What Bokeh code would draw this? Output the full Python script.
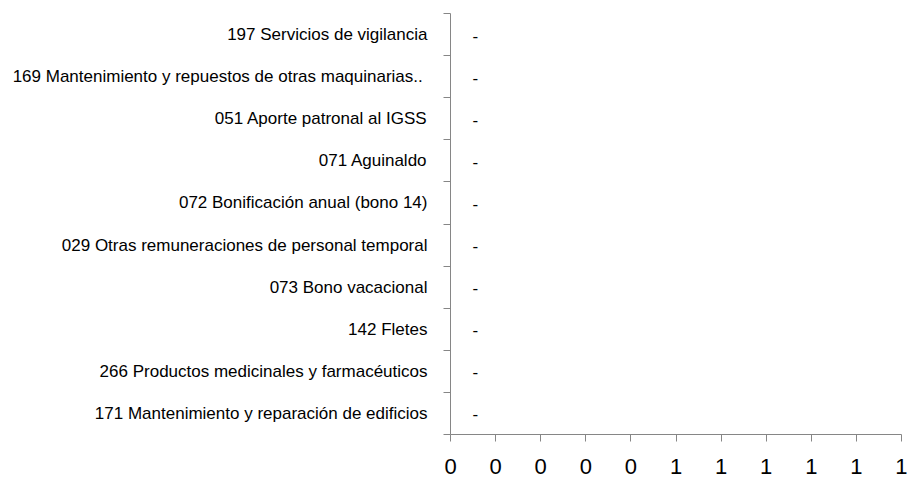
from bokeh.plotting import figure
from bokeh.models import FixedTicker, CustomJSTickFormatter, ColumnDataSource, Range1d
from bokeh.core.properties import value
from bokeh.embed import file_html
from bokeh.resources import INLINE

# Data (bottom to top)
categories = [
    "171 Mantenimiento y reparación de edificios",
    "266 Productos medicinales y farmacéuticos",
    "142 Fletes",
    "073 Bono vacacional",
    "029 Otras remuneraciones de personal temporal",
    "072 Bonificación anual (bono 14)",
    "071 Aguinaldo",
    "051 Aporte patronal al IGSS",
    "169 Mantenimiento y repuestos de  otras maquinarias..",
    "197 Servicios de vigilancia",
]
values = [0, 0, 0, 0, 0, 0, 0, 0, 0, 0]
data_labels = ["-", "-", "-", "-", "-", "-", "-", "-", "-", "-"]
x_ticks = [0.0, 0.1, 0.2, 0.3, 0.4, 0.5, 0.6, 0.7, 0.8, 0.9, 1.0]

FONT = "Liberation Sans"
AXIS_COLOR = "#868686"

ys = [i + 0.5 for i in range(len(categories))]
src = ColumnDataSource(dict(y=ys, value=values, label=data_labels))

p = figure(
    width=907, height=485,
    x_range=Range1d(x_ticks[0], x_ticks[-1]),
    y_range=Range1d(0, len(categories)),
    output_backend="svg", toolbar_location=None,
    min_border_left=450, min_border_right=6,
    min_border_top=13, min_border_bottom=51,
)
p.outline_line_color = None
p.xgrid.visible = False
p.ygrid.visible = False
p.background_fill_color = "white"
p.border_fill_color = "white"

p.hbar(y="y", left=0, right="value", height=0.6, source=src,
       fill_color="#4f81bd", line_color=None)
p.text(x="value", y="y", text="label", source=src, x_offset=22, y_offset=1,
       text_align="left", text_baseline="middle",
       text_font=value(FONT), text_font_size="17px", text_color="#000000")

# Y axis
ya = p.yaxis[0]
ya.ticker = FixedTicker(ticks=ys, minor_ticks=list(range(len(categories) + 1)))
ya.formatter = CustomJSTickFormatter(args=dict(labels=categories),
                                     code="return labels[Math.floor(tick)];")
ya.axis_line_color = AXIS_COLOR
ya.major_tick_line_color = None
ya.major_tick_out = 0
ya.major_tick_in = 0
ya.minor_tick_line_color = AXIS_COLOR
ya.minor_tick_out = 7
ya.minor_tick_in = 0
ya.major_label_standoff = 16
ya.major_label_text_font = FONT
ya.major_label_text_font_size = "17px"
ya.major_label_text_color = "#000000"

# X axis
xa = p.xaxis[0]
xa.ticker = FixedTicker(ticks=x_ticks)
xa.formatter = CustomJSTickFormatter(code="return tick.toFixed(0);")
xa.axis_line_color = AXIS_COLOR
xa.major_tick_line_color = AXIS_COLOR
xa.major_tick_out = 7
xa.major_tick_in = 0
xa.minor_tick_line_color = None
xa.major_label_standoff = 17
xa.major_label_text_font = FONT
xa.major_label_text_font_size = "22px"
xa.major_label_text_color = "#000000"

open("out.html", "w").write(file_html(p, INLINE))
